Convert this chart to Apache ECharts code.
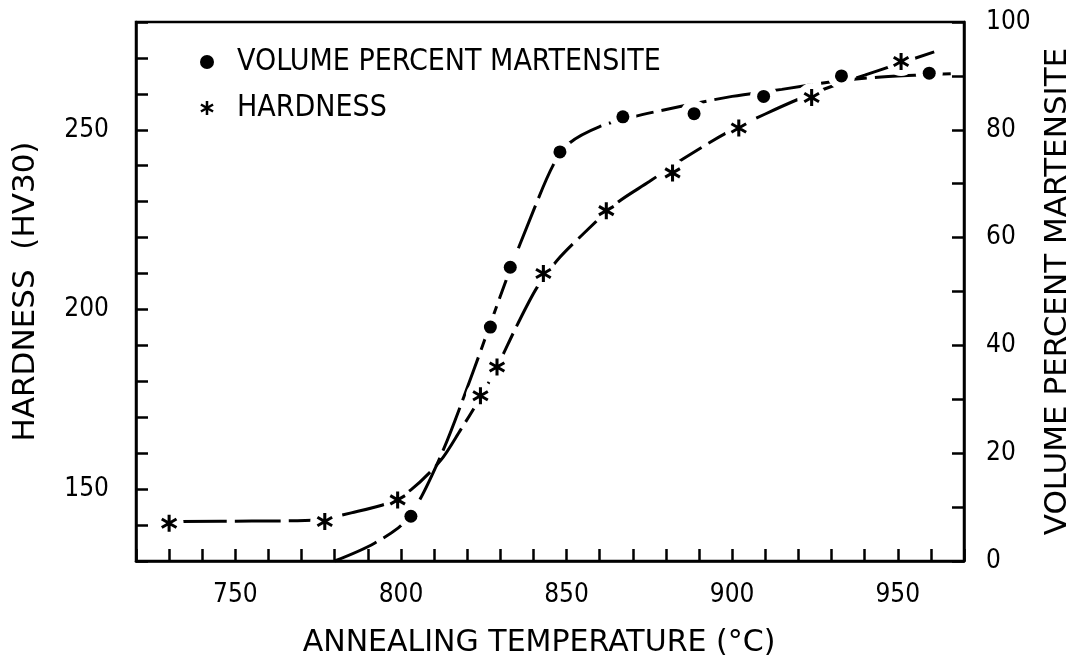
<!DOCTYPE html>
<html>
<head>
<meta charset="utf-8">
<script src="https://cdn.jsdelivr.net/npm/echarts@6/dist/echarts.min.js"></script>
<style>
  html, body { margin: 0; padding: 0; background: #fff; }
  #chart { width: 1080px; height: 655px; }
</style>
</head>
<body>
<div id="chart"></div>
<script>
// Measured hardness (HV30) against annealing temperature (°C)
const hardnessTemps  = [730, 777, 799, 824, 829, 843, 862, 882, 902, 924, 951];
const hardnessValues = [140.5, 141, 147, 176, 184, 210, 227.5, 238, 250.5, 259, 269];

// Measured volume percent martensite against annealing temperature (°C)
const martensiteTemps  = [803, 827, 833, 848, 867, 888.5, 909.5, 933, 959.5];
const martensiteValues = [8.3, 43.4, 54.5, 75.9, 82.4, 83.0, 86.2, 90.0, 90.5];

// Hand-drawn trend curve through the hardness data
const hardnessCurveTemps  = [733.5, 755, 775, 785, 796, 803, 812, 818, 823, 829, 835, 841, 847, 855,
                             865, 875, 885, 898, 910, 921, 931, 940, 950, 961];
const hardnessCurveValues = [141.0, 141.1, 141.5, 143.4, 146.1, 149.8, 158, 166.5, 174, 184, 195.5, 206, 213.5, 221,
                             229.5, 235.6, 241.8, 249, 254.4, 258.9, 262.4, 265.2, 268.3, 271.7];

// Hand-drawn trend curve through the martensite data
const martensiteCurveTemps  = [780, 792, 802, 812, 822, 832, 840, 846, 851, 860, 870, 885, 900, 915, 930, 945, 966];
const martensiteCurveValues = [0, 3.3, 7.8, 19.5, 35.5, 52.5, 65, 73.5, 77.6, 80.6, 82.4, 84.4, 86.2, 87.5, 88.9, 89.8, 90.4];

// Labelled tick values
const tempTicks       = [750, 800, 850, 900, 950];
const hardnessTicks   = [150, 200, 250];
const martensiteTicks = [0, 20, 40, 60, 80, 100];

const pairs = (xs, ys) => xs.map((x, i) => [x, ys[i]]);

const INK = '#000';
const narrowFont = "'DejaVu Sans Condensed', 'DejaVu Sans', sans-serif";
const titleFont = "'DejaVu Sans', sans-serif";
// six-armed asterisk marker
const ASTERISK = 'path://M-1.8 -10L1.8 -10L1.8 10L-1.8 10Z' +
                 'M7.76 -6.559L9.56 -3.441L-7.76 6.559L-9.56 3.441Z' +
                 'M-9.56 -3.441L-7.76 -6.559L9.56 3.441L7.76 6.559Z';

const tickStyle = { show: true, inside: true, length: 12, lineStyle: { color: INK, width: 2.5 } };
const lineStyle = { show: true, onZero: false, lineStyle: { color: INK, width: 2.5 } };
const labelBase = { color: INK, fontFamily: narrowFont, fontSize: 26 };
const nameBase  = { color: INK, fontFamily: titleFont, fontSize: 30 };
const dashed    = { color: INK, width: 3, type: [46, 8], cap: 'butt' };
const solidInk  = { color: INK, opacity: 1 };
const clearance = { color: '#fff', opacity: 1 };

const chart = echarts.init(document.getElementById('chart'), null, { renderer: 'canvas' });

chart.setOption({
  animation: false,
  backgroundColor: '#fff',
  grid: {
    left: 136, right: 116, top: 22, bottom: 94,
    outerBoundsMode: 'none', containLabel: false,
    show: true, borderColor: INK, borderWidth: 2.5, backgroundColor: 'transparent'
  },
  legend: {
    data: ['VOLUME PERCENT MARTENSITE', 'HARDNESS'],
    orient: 'vertical',
    left: 200, top: 47, padding: 0,
    itemWidth: 50, itemHeight: 14, itemGap: 16,
    selectedMode: false,
    textStyle: { color: INK, fontFamily: narrowFont, fontSize: 30, lineHeight: 30 }
  },
  xAxis: {
    type: 'value', min: 720, max: 970, interval: 10,
    axisLine: lineStyle, axisTick: tickStyle, splitLine: { show: false },
    axisLabel: Object.assign({ margin: 21, formatter: v => tempTicks.includes(v) ? String(v) : '' }, labelBase),
    name: 'ANNEALING TEMPERATURE (°C)', nameLocation: 'middle', nameGap: 67,
    nameTextStyle: Object.assign({ padding: [0, 22, 0, 0] }, nameBase)
  },
  yAxis: [
    {
      type: 'value', position: 'left', min: 130, max: 280, interval: 10,
      axisLine: lineStyle, axisTick: tickStyle, splitLine: { show: false },
      axisLabel: Object.assign({ margin: 27, formatter: v => hardnessTicks.includes(v) ? String(v) : '' }, labelBase),
      name: 'HARDNESS  (HV30)', nameLocation: 'middle', nameGap: 95,
      nameTextStyle: Object.assign({}, nameBase, { fontSize: 31 })
    },
    {
      type: 'value', position: 'right', min: 0, max: 100, interval: 10,
      axisLine: lineStyle, axisTick: tickStyle, splitLine: { show: false },
      axisLabel: Object.assign({ margin: 22, formatter: v => martensiteTicks.includes(v) ? String(v) : '' }, labelBase),
      name: 'VOLUME PERCENT MARTENSITE', nameLocation: 'middle', nameGap: 78,
      nameTextStyle: Object.assign({}, nameBase, { fontSize: 31 })
    }
  ],
  series: [
    {
      name: 'martensite trend', type: 'line', yAxisIndex: 1, z: 2,
      data: pairs(martensiteCurveTemps, martensiteCurveValues),
      smooth: 0.3, showSymbol: false, silent: true,
      lineStyle: dashed
    },
    {
      name: 'hardness trend', type: 'line', yAxisIndex: 0, z: 2,
      data: pairs(hardnessCurveTemps, hardnessCurveValues),
      smooth: 0.3, showSymbol: false, silent: true,
      lineStyle: dashed
    },
    // white clearance round each marker, so the curves break at the points
    {
      name: 'martensite clearance', type: 'scatter', yAxisIndex: 1, z: 3, silent: true,
      data: pairs(martensiteTemps, martensiteValues),
      symbol: 'circle', symbolSize: 27, itemStyle: clearance
    },
    {
      name: 'hardness clearance', type: 'scatter', yAxisIndex: 0, z: 3, silent: true,
      data: pairs(hardnessTemps, hardnessValues),
      symbol: 'circle', symbolSize: 29, itemStyle: clearance
    },
    {
      name: 'VOLUME PERCENT MARTENSITE', type: 'scatter', yAxisIndex: 1, z: 4,
      data: pairs(martensiteTemps, martensiteValues),
      symbol: 'circle', symbolSize: 13, itemStyle: solidInk
    },
    {
      name: 'HARDNESS', type: 'scatter', yAxisIndex: 0, z: 4,
      data: pairs(hardnessTemps, hardnessValues),
      symbol: ASTERISK, symbolSize: 17, symbolKeepAspect: true, itemStyle: solidInk
    }
  ]
});
</script>
</body>
</html>
